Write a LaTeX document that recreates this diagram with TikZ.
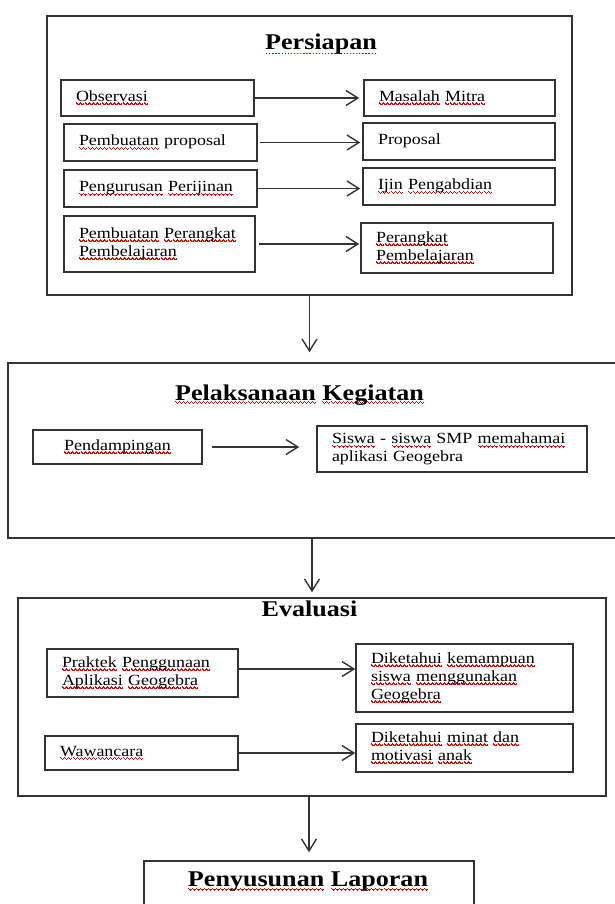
\documentclass[tikz,border=0pt]{standalone}
\usepackage{fontspec}
\setmainfont[FakeStretch=1.16]{Liberation Serif}
\usetikzlibrary{arrows.meta,positioning}

% spell-check marks
\newcommand\wavebit{\textcolor{red!85!black}{\rule[-2.4pt]{1pt}{1.3pt}\rule[-3.2pt]{1pt}{1.3pt}\rule[-4pt]{1pt}{1.3pt}\rule[-3.2pt]{1pt}{1.3pt}}}
\newcommand\redwave[1]{\leavevmode\setbox0\hbox{#1}\rlap{\hbox to\wd0{\xleaders\hbox{\wavebit}\hfill}}\box0\relax}
\newcommand\reddots[1]{\leavevmode\setbox0\hbox{#1}\rlap{\hbox to\wd0{\xleaders\hbox{\kern0.9pt\textcolor{red!85!black}{\rule[-4pt]{1.3pt}{1.3pt}}\kern0.9pt}\hfill}}\box0\relax}
\newcommand\boxfont{\fontsize{15.5}{18}\selectfont}
\newcommand\headfont{\fontsize{22.5}{26}\selectfont\bfseries}

\begin{document}
\begin{tikzpicture}[x=1pt, y=-1pt,
    frame/.style={draw=black!80, line width=1.5pt, inner sep=0pt},
    item/.style={draw=black!80, line width=1.5pt, inner xsep=15pt, inner ysep=0pt, align=left, font=\boxfont},
    head/.style={anchor=base, font=\headfont},
    arr/.style={-{Straight Barb[length=12pt, width=15pt]}, color=black!80, line width=1.4pt}]
        \useasboundingbox (0, 0) rectangle (615, 904);

        % Persiapan
        \node[frame, minimum width=525pt, minimum height=279pt] at (309.5, 155.5)(persiapan){};
        \node[head] at (321, 50)(tpersiapan){\reddots{Persiapan}};
        \node[item, text width=163pt, minimum height=36pt] at (157.5, 98)(observasi){\redwave{Observasi}};
        \node[item, text width=163pt, minimum height=37pt] at (160.5, 142.5)(pembproposal){\redwave{Pembuatan} proposal};
        \node[item, text width=163pt, minimum height=37pt] at (160.5, 188.5)(perijinan){\redwave{Pengurusan} \redwave{Perijinan}};
        \node[item, text width=161pt, minimum height=56pt] at (159.5, 244)(pembperangkat){\redwave{Pembuatan} \redwave{Perangkat}\\ \redwave{Pembelajaran}};
        \node[item, text width=161pt, minimum height=36pt] at (459.5, 98)(masalah){\redwave{Masalah} \redwave{Mitra}};
        \node[item, text width=162pt, minimum height=37pt] at (459, 141.5)(proposal){\raisebox{4pt}{Proposal}};
        \node[item, text width=162pt, minimum height=37pt] at (459, 186.5)(ijin){\redwave{Ijin} \redwave{Pengabdian}};
        \node[item, text width=162pt, minimum height=50pt] at (457, 248)(perangkat){\redwave{Perangkat}\\ \redwave{Pembelajaran}};

        % Pelaksanaan Kegiatan
        \node[frame, minimum width=610pt, minimum height=175pt] at (313, 450.5)(pelaksanaan){};
        \node[head] at (299.5, 400)(tpelaksanaan){\redwave{Pelaksanaan} \redwave{Kegiatan}};
        \node[item, align=center, text width=139pt, minimum height=34pt] at (117.5, 447)(pendampingan){\redwave{Pendampingan}};
        \node[item, text width=240pt, minimum height=46pt] at (452, 449)(siswa){\redwave{Siswa} - \redwave{siswa} SMP \redwave{memahamai}\\ aplikasi Geogebra};

        % Evaluasi
        \node[frame, minimum width=588pt, minimum height=198pt] at (312, 697)(evaluasi){};
        \node[head] at (309.5, 616.7)(tevaluasi){Evaluasi};
        \node[item, text width=161pt, minimum height=48pt] at (142.5, 673)(praktek){\redwave{Praktek} \redwave{Penggunaan}\\ \redwave{Aplikasi} \redwave{Geogebra}};
        \node[item, text width=163pt, minimum height=34pt] at (141.5, 753)(wawancara){\redwave{Wawancara}};
        \node[item, text width=187pt, minimum height=68pt] at (464.5, 678)(kemampuan){\redwave{Diketahui} \redwave{kemampuan}\\ \redwave{siswa} \redwave{menggunakan}\\ \redwave{Geogebra}};
        \node[item, text width=187pt, minimum height=48pt] at (464.5, 748)(minat){\redwave{Diketahui} \redwave{minat} \redwave{dan}\\ \redwave{motivasi} \redwave{anak}};

        % Penyusunan Laporan
        \node[frame, minimum width=330pt, minimum height=54pt] at (309, 888)(penyusunan){};
        \node[head] at (308, 886.7)(tpenyusunan){\redwave{Penyusunan} \redwave{Laporan}};

        \coordinate (praktekout) at (238, 669);

        \path[arr]
            (observasi)edge[shorten >=4pt](masalah)
            (pembproposal)edge[shorten <=2pt, shorten >=2pt](pembproposal -| proposal.west)
            (perijinan)edge[shorten >=2pt](perijinan -| ijin.west)
            (pembperangkat)edge[shorten <=3pt, shorten >=1pt](pembperangkat -| perangkat.west)
            (pendampingan)edge[shorten <=9pt, shorten >=17pt](pendampingan -| siswa.west)
            (praktekout)edge(praktekout -| kemampuan.west)
            (wawancara)edge(wawancara -| minat.west)
            ;
        \draw[arr, shorten >=10pt] (persiapan.south) -- (persiapan.south |- pelaksanaan.north);
        \draw[arr, shorten >=5pt] (evaluasi.north |- pelaksanaan.south) -- (evaluasi.north);
        \draw[arr, shorten >=8pt] (evaluasi.south -| penyusunan.north) -- (penyusunan.north);
    \end{tikzpicture}
\end{document}
